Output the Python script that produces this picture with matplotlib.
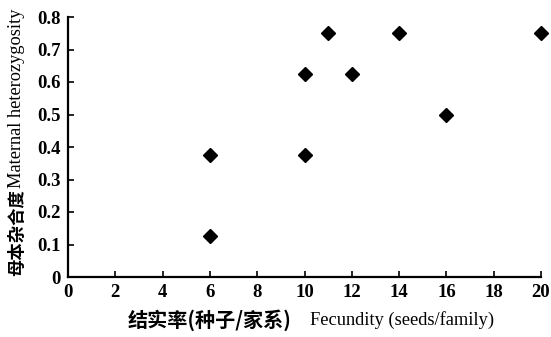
import matplotlib
matplotlib.use("Agg")
import matplotlib.pyplot as plt

fecundity = [6, 6, 10, 10, 11, 12, 14, 16, 20]
heterozygosity = [0.375, 0.125, 0.625, 0.375, 0.75, 0.625, 0.75, 0.5, 0.75]
xticks = [0, 2, 4, 6, 8, 10, 12, 14, 16, 18, 20]
yticks = [0, 0.1, 0.2, 0.3, 0.4, 0.5, 0.6, 0.7, 0.8]
ytick_labels = ["0", "0.1", "0.2", "0.3", "0.4", "0.5", "0.6", "0.7", "0.8"]

fig = plt.figure(figsize=(5.51, 3.37), dpi=100)
ax = fig.add_axes([68/551, 60/337, (541-68)/551, (277-17)/337])
ax.plot(fecundity, heterozygosity, linestyle="none", marker="D", ms=7.5,
        color="black", markeredgewidth=1, clip_on=False)
ax.set_xlim(0, 20)
ax.set_ylim(0, 0.8)
ax.set_xticks(xticks)
ax.set_yticks(yticks)
ax.set_yticklabels(ytick_labels)
for s in ["top", "right"]:
    ax.spines[s].set_visible(False)
for s in ["left", "bottom"]:
    ax.spines[s].set_linewidth(1.6)
ax.tick_params(direction="in", length=4, width=1.2, labelsize=13.5, pad=5)
for lab in ax.get_xticklabels() + ax.get_yticklabels():
    lab.set_family("Liberation Serif")
    lab.set_fontweight("bold")

fig.text(128/551, 1 - 320/337, "结实率(种子/家系)", family=["Noto Sans CJK SC"],
         fontsize=14.5, fontweight="bold", ha="left", va="center")
fig.text(310/551, 1 - 320/337, "Fecundity (seeds/family)", family=["Liberation Serif"],
         fontsize=13.2, ha="left", va="center")
fig.text(17/551, 1 - 276/337, "母本杂合度", family=["Noto Sans CJK SC"],
         fontsize=12.5, fontweight="bold", rotation=90, ha="center", va="bottom")
fig.text(17/551, 1 - 9/337, "Maternal heterozygosity", family=["Liberation Serif"],
         fontsize=13.2, rotation=90, ha="center", va="top")

fig.savefig("out.png", dpi=100)
